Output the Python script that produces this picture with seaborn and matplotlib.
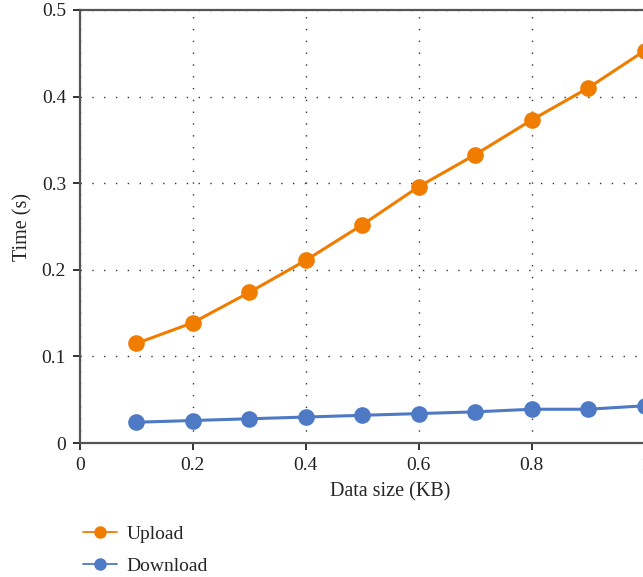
import numpy as np
import pandas as pd
import seaborn as sns
from matplotlib import pyplot as plt

# data size in KB and measured time in seconds
data_size = [0.1, 0.2, 0.3, 0.4, 0.5, 0.6, 0.7, 0.8, 0.9, 1.0]
upload = [0.115, 0.139, 0.174, 0.211, 0.252, 0.296, 0.333, 0.373, 0.410, 0.453]
download = [0.024, 0.026, 0.028, 0.030, 0.032, 0.034, 0.036, 0.039, 0.039, 0.043]

df = pd.DataFrame({
    "size": data_size * 2,
    "time": upload + download,
    "kind": ["Upload"] * len(upload) + ["Download"] * len(download),
})

sns.set_style("ticks")
plt.rcParams["font.family"] = ["Liberation Serif", "DejaVu Serif"]

fig = plt.figure(figsize=(6.43, 5.77), dpi=100)
# axes run past the right edge of the figure, like the cropped original
ax = fig.add_axes([0.1244, 0.2322, 0.966, 0.7505])

sns.lineplot(data=df, x="size", y="time", hue="kind",
             palette={"Upload": "#F07D00", "Download": "#4E79C4"},
             marker="o", markersize=12, markeredgewidth=0, linewidth=2.2,
             ax=ax)

ax.set_xlim(0, 1.1)
ax.set_ylim(0, 0.5)
ax.set_xticks([0, 0.2, 0.4, 0.6, 0.8, 1.0])
ax.set_xticklabels(["0", "0.2", "0.4", "0.6", "0.8", "1"])
ax.set_yticks([0, 0.1, 0.2, 0.3, 0.4, 0.5])
ax.set_yticklabels(["0", "0.1", "0.2", "0.3", "0.4", "0.5"])
ax.grid(True, linestyle=(0, (1, 7.5)), color="#333333", linewidth=1)
ax.set_xlabel("Data size (KB)", fontsize=14.5, labelpad=6)
ax.set_ylabel("Time (s)", fontsize=14.5, labelpad=7)
ax.tick_params(labelsize=14, direction="out", length=5, width=1.3, colors="#222222", pad=5)

for s in ["left", "bottom", "top"]:
    ax.spines[s].set_color("#555555")
    ax.spines[s].set_linewidth(1.6)
ax.spines["right"].set_visible(False)

leg = ax.legend(loc="upper left", bbox_to_anchor=(-0.023, -0.149), frameon=False,
                fontsize=14, handlelength=1.75, handletextpad=0.46, labelspacing=0.75,
                markerscale=0.75)
for h in leg.get_lines():
    h.set_linewidth(1.3)

plt.savefig("out.png", dpi=100)
